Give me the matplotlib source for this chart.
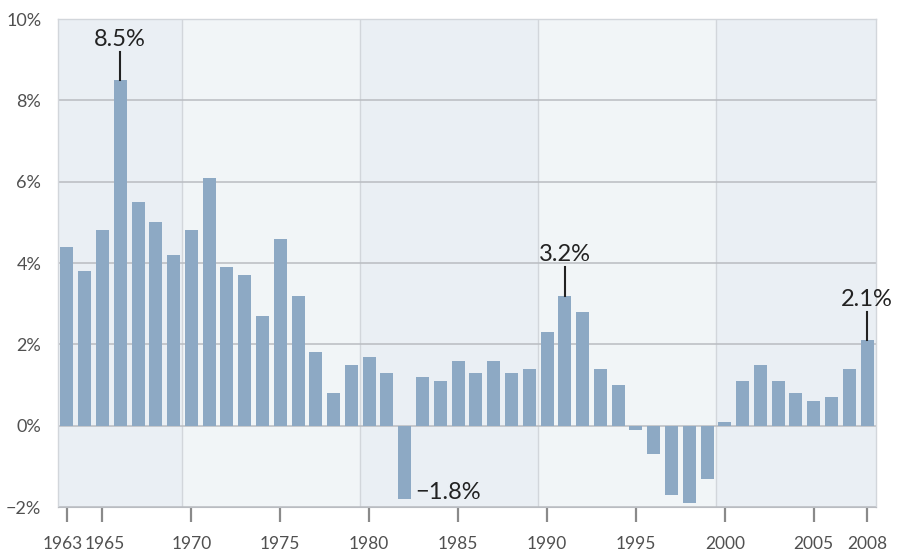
import matplotlib
matplotlib.use("Agg")
import matplotlib.pyplot as plt
import matplotlib.transforms as mtransforms
import numpy as np

plt.rcParams['font.family'] = ['Lato', 'DejaVu Sans']

years = list(range(1963, 2009))
values = [4.4, 3.8, 4.8, 8.5, 5.5, 5.0, 4.2,
          4.8, 6.1, 3.9, 3.7, 2.7, 4.6, 3.2, 1.8, 0.8, 1.5,
          1.7, 1.3, -1.8, 1.2, 1.1, 1.6, 1.3, 1.6, 1.3, 1.4,
          2.3, 3.2, 2.8, 1.4, 1.0, -0.1, -0.7, -1.7, -1.9, -1.3,
          0.1, 1.1, 1.5, 1.1, 0.8, 0.6, 0.7, 1.4, 2.1]
xtick_years = [1963, 1965, 1970, 1975, 1980, 1985, 1990, 1995, 2000, 2005, 2008]
yticks = [-2, 0, 2, 4, 6, 8, 10]
# decade bands: (start, end, shade)
bands = [(1962.5, 1969.5, "#eaeff4"), (1969.5, 1979.5, "#f1f5f7"),
         (1979.5, 1989.5, "#eaeff4"), (1989.5, 1999.5, "#f1f5f7"),
         (1999.5, 2008.5, "#eaeff4")]
callouts = {1966: "8.5%", 1991: "3.2%", 2008: "2.1%"}

fig = plt.figure(figsize=(9.04, 5.52), dpi=100)
ax = fig.add_axes([58 / 904, 45 / 552, 818 / 904, 488 / 552])

for x0, x1, c in bands:
    ax.axvspan(x0, x1, color=c, lw=0, zorder=0)
for x0, x1, c in bands[1:]:
    ax.axvline(x0, color="#d2d6db", lw=1, zorder=1)
for y in yticks:
    ax.axhline(y, color="#b9bcc1", lw=1.1, zorder=1)

ax.bar(years, values, width=0.73, color="#8da9c4", zorder=2)

for yr, txt in callouts.items():
    v = values[years.index(yr)]
    ax.plot([yr, yr], [v, v + 0.7], color="#222222", lw=1.5, zorder=3)
    ax.text(yr, v + 0.75, txt, ha="center", va="bottom", fontsize=17,
            color="#222222")
v82 = values[years.index(1982)]
ax.text(1982.6, v82 + 0.15, "\u22121.8%", ha="left", va="center", fontsize=17,
        color="#222222")

ax.set_xlim(1962.5, 2008.5)
ax.set_ylim(-2, 10)
ax.set_yticks(yticks)
ax.set_yticklabels([("\u2212%d%%" % -t) if t < 0 else "%d%%" % t for t in yticks])
ax.set_xticks(xtick_years)
ax.set_xticklabels([str(y) for y in xtick_years])
ax.tick_params(axis="y", length=0, pad=12, labelsize=13, labelcolor="#505050")
ax.tick_params(axis="x", length=11, width=1.6, color="#8a8a8a", pad=10,
               labelsize=12.5, labelcolor="#505050")
# nudge the two crowded labels apart
xl = ax.get_xticklabels()
xl[0].set_transform(xl[0].get_transform() +
                    mtransforms.ScaledTranslation(-4 / 100, 0, fig.dpi_scale_trans))
xl[1].set_transform(xl[1].get_transform() +
                    mtransforms.ScaledTranslation(2 / 100, 0, fig.dpi_scale_trans))
for s in ["top", "right", "left"]:
    ax.spines[s].set_color("#d2d6db")
    ax.spines[s].set_linewidth(1)
ax.spines["bottom"].set_color("#b9bcc1")

fig.savefig("out.png", dpi=100)
